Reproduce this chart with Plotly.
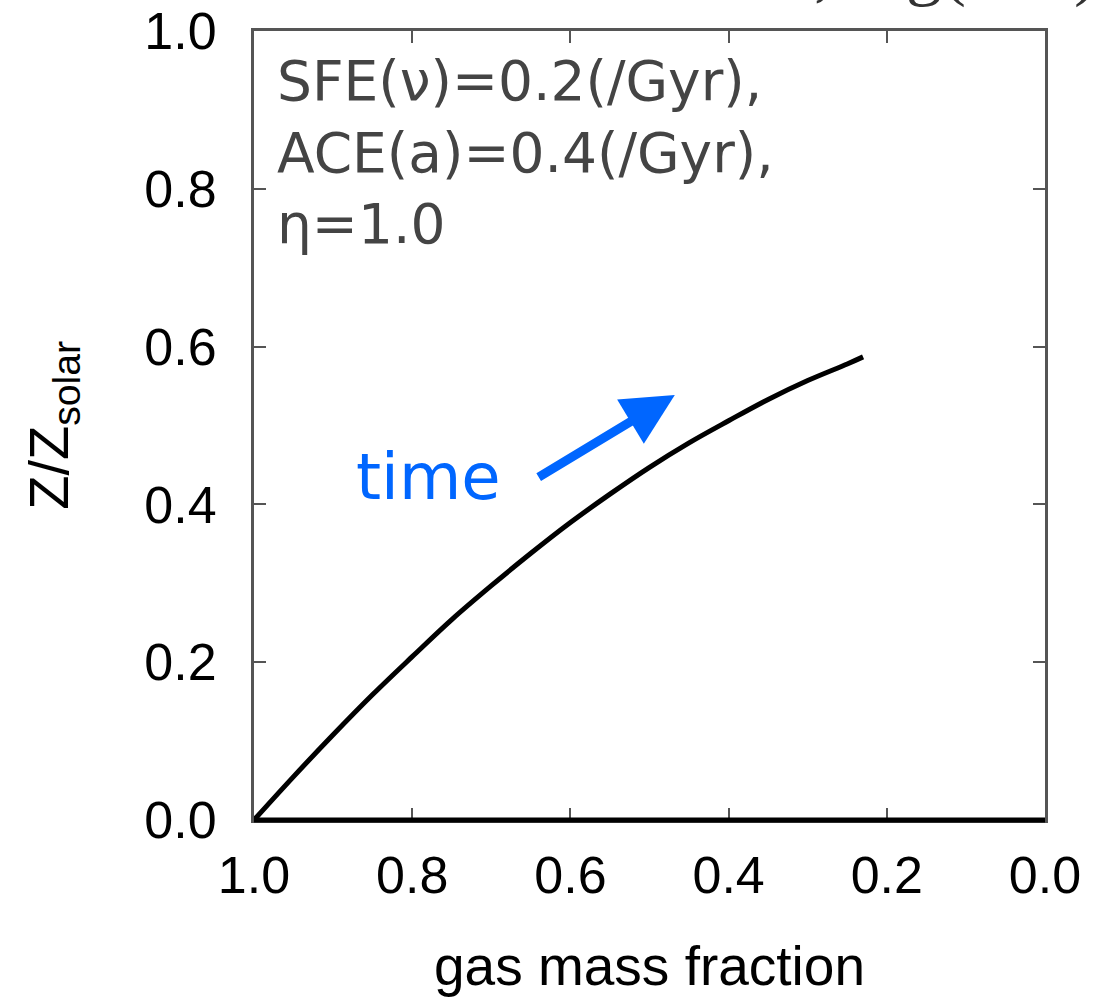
import plotly.graph_objects as go

# gas mass fraction (x) and metallicity Z/Zsolar (y)
gas_fraction = [1.0, 0.95, 0.9, 0.85, 0.8, 0.75, 0.7, 0.65, 0.6, 0.55, 0.5, 0.45, 0.4, 0.35, 0.3, 0.25, 0.23]
metallicity = [0.0, 0.055, 0.108, 0.159, 0.207, 0.254, 0.297, 0.338, 0.377, 0.413, 0.447, 0.478, 0.506, 0.533, 0.557, 0.578, 0.587]

x_ticks = [1.0, 0.8, 0.6, 0.4, 0.2, 0.0]
x_ticklabels = ["1.0", "0.8", "0.6", "0.4", "0.2", "0.0"]
y_ticks = [0.0, 0.2, 0.4, 0.6, 0.8, 1.0]
y_ticklabels = ["0.0", "0.2", "0.4", "0.6", "0.8", "1.0"]

params_text = "SFE(ν)=0.2(/Gyr),<br>ACE(a)=0.4(/Gyr),<br>η=1.0"
time_label_pos = (0.780, 0.435)
arrow_tail = (0.642, 0.4335)
arrow_head = (0.468, 0.5387)

AX_FONT = "Liberation Sans, Arial, Helvetica, sans-serif"
BLUE = "#0066ff"

fig = go.Figure()
fig.add_trace(go.Scatter(
    x=gas_fraction, y=metallicity, mode="lines",
    line=dict(color="black", width=5, shape="spline", smoothing=1.0),
    showlegend=False, hoverinfo="skip",
))

fig.update_layout(
    width=1115, height=997,
    margin=dict(l=254, r=70, t=31, b=177, autoexpand=False),
    paper_bgcolor="white", plot_bgcolor="white",
    showlegend=False,
    xaxis=dict(
        range=[1.0, 0.0], autorange=False, automargin=False,
        tickmode="array", tickvals=x_ticks, ticktext=x_ticklabels,
        ticks="inside", ticklen=12, tickwidth=2, tickcolor="#555",
        showline=True, linecolor="#555", linewidth=3, mirror="ticks",
        showgrid=False, zeroline=False, ticklabeloverflow="allow",
        tickfont=dict(family=AX_FONT, size=52, color="black"),
        ticklabelstandoff=8,
    ),
    yaxis=dict(
        range=[0.0, 1.0], autorange=False, automargin=False,
        tickmode="array", tickvals=y_ticks, ticktext=y_ticklabels,
        ticks="inside", ticklen=12, tickwidth=2, tickcolor="#555",
        showline=True, linecolor="#555", linewidth=3, mirror="ticks",
        showgrid=False, zeroline=False, ticklabeloverflow="allow",
        tickfont=dict(family=AX_FONT, size=52, color="black"),
        ticklabelstandoff=24,
    ),
)

# thick black bottom frame line
fig.add_shape(type="line", xref="paper", yref="paper", x0=0, x1=1, y0=0, y1=0,
              line=dict(color="black", width=5), layer="above")

# axis titles
fig.add_annotation(text="gas mass fraction", xref="paper", yref="paper",
                   x=0.5, y=-0.185, xanchor="center", yanchor="middle",
                   showarrow=False, font=dict(family=AX_FONT, size=55, color="black"))
fig.add_annotation(text="Z/Z<sub>solar</sub>", xref="paper", yref="paper",
                   x=-0.255, y=0.5, xanchor="center", yanchor="middle", textangle=-90,
                   showarrow=False, font=dict(family=AX_FONT, size=56, color="black"))

# parameter text
fig.add_annotation(text=params_text, xref="paper", yref="paper",
                   x=0.027, y=0.980, xanchor="left", yanchor="top", align="left",
                   showarrow=False, font=dict(family="DejaVu Sans", size=55, color="#444"))

# time label and arrow
fig.add_annotation(text="time", x=time_label_pos[0], y=time_label_pos[1], xref="x", yref="y",
                   xanchor="center", yanchor="middle", showarrow=False,
                   font=dict(family="DejaVu Sans", size=64, color=BLUE))
fig.add_annotation(x=arrow_head[0], y=arrow_head[1], ax=arrow_tail[0], ay=arrow_tail[1],
                   xref="x", yref="y", axref="x", ayref="y", text="",
                   showarrow=True, arrowhead=2, arrowsize=1.15, arrowwidth=9, arrowcolor=BLUE,
                   standoff=0, startstandoff=0)

# cropped serif text at top right
fig.add_annotation(text=", log(Z/Z)", xref="paper", yref="paper",
                   x=(812 - 254) / 791, y=1.026, xanchor="left", yanchor="bottom",
                   showarrow=False, font=dict(family="Liberation Serif, serif", size=72, color="#333"))

fig.write_html("out.html", config={"displayModeBar": False},
               post_script="document.body.style.margin='0';document.body.style.padding='0';")
